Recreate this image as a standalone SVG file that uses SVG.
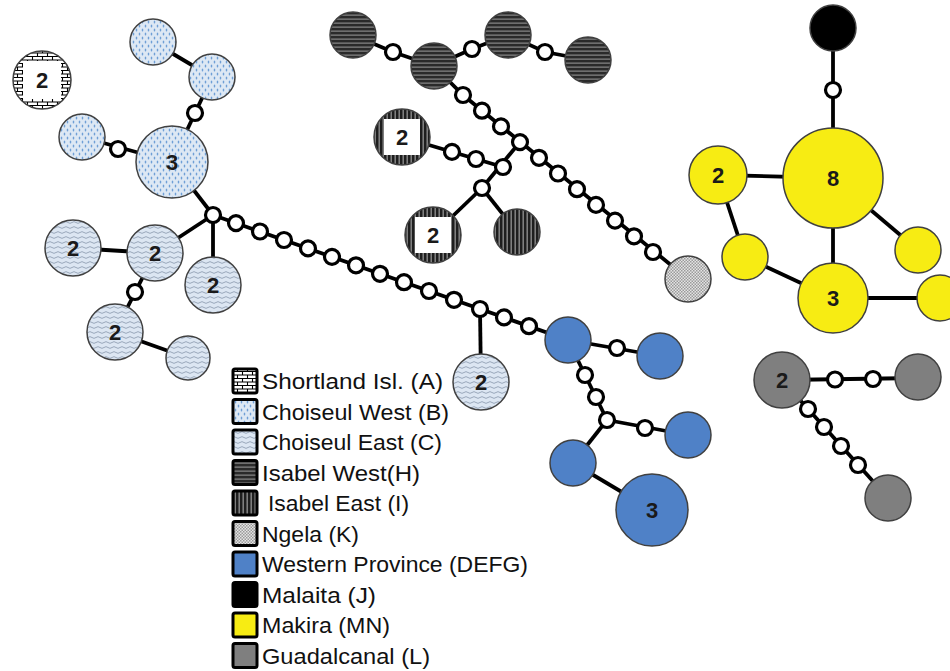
<svg xmlns="http://www.w3.org/2000/svg" width="950" height="671" viewBox="0 0 950 671">
<style>
.ln{stroke:#000;stroke-width:3.8;fill:none}
.mv{fill:#fff;stroke:#000;stroke-width:3.2}
.nd{stroke:#404040;stroke-width:1.5}
.num{font-family:"Liberation Sans",Arial,sans-serif;font-weight:bold;font-size:22px;fill:#1a1a1a;text-anchor:middle}
.lg{font-family:"Liberation Sans",Arial,sans-serif;font-size:22px;fill:#111}
.sw{stroke:#000;stroke-width:3}
</style>
<defs>
<pattern id="pA" width="10" height="7" patternUnits="userSpaceOnUse">
<rect width="10" height="7" fill="#fff"/>
<path d="M0 0.5H10M0 4H10M2.5 0.5V4M7.5 4V7.5" stroke="#000" stroke-width="1.1"/>
</pattern>
<pattern id="pB" width="6" height="8" patternUnits="userSpaceOnUse">
<rect width="6" height="8" fill="#dde8f4"/>
<ellipse cx="1.5" cy="2" rx="0.8" ry="1.5" fill="#6f9fd6"/>
<ellipse cx="4.5" cy="6" rx="0.8" ry="1.5" fill="#6f9fd6"/>
</pattern>
<pattern id="pC" width="8" height="5" patternUnits="userSpaceOnUse">
<rect width="8" height="5" fill="#dce6f2"/>
<path d="M0 2.5Q2 0.8 4 2.5T8 2.5" stroke="#8796ab" stroke-width="0.8" fill="none"/>
</pattern>
<pattern id="pH" width="4" height="4" patternUnits="userSpaceOnUse">
<rect width="4" height="4" fill="#2a2a2a"/>
<rect y="2.6" width="4" height="1" fill="#9a9a9a"/>
</pattern>
<pattern id="pI" width="4" height="4" patternUnits="userSpaceOnUse">
<rect width="4" height="4" fill="#1e1e1e"/>
<rect x="2.6" width="1.1" height="4" fill="#a8a8a8"/>
</pattern>
<pattern id="pK" width="3" height="3" patternUnits="userSpaceOnUse">
<rect width="3" height="3" fill="#e4e4e4"/>
<rect width="1.5" height="1.5" fill="#9a9a9a"/>
<rect x="1.5" y="1.5" width="1.5" height="1.5" fill="#9a9a9a"/>
</pattern>
</defs>
<rect width="950" height="671" fill="#fff"/>

<g id="connectors">
<line class="ln" x1="153" y1="42" x2="212" y2="77"/>
<line class="ln" x1="212" y1="77" x2="172" y2="162"/>
<line class="ln" x1="82" y1="137" x2="172" y2="162"/>
<line class="ln" x1="172" y1="162" x2="213" y2="215"/>
<line class="ln" x1="73" y1="248" x2="155" y2="253"/>
<line class="ln" x1="155" y1="253" x2="213" y2="215"/>
<line class="ln" x1="213" y1="215" x2="213" y2="285"/>
<line class="ln" x1="155" y1="253" x2="115" y2="332"/>
<line class="ln" x1="115" y1="332" x2="188" y2="358"/>
<line class="ln" x1="213" y1="215" x2="568" y2="340"/>
<line class="ln" x1="480" y1="309" x2="481" y2="382"/>
<line class="ln" x1="568" y1="340" x2="660" y2="356"/>
<line class="ln" x1="568" y1="340" x2="607" y2="420"/>
<line class="ln" x1="607" y1="420" x2="688" y2="435"/>
<line class="ln" x1="607" y1="420" x2="573" y2="463"/>
<line class="ln" x1="573" y1="463" x2="652" y2="510"/>
<polyline class="ln" points="353,35 393,52 434,66 472,49 508,35 545,52 588,60"/>
<polyline class="ln" points="434,66 463,95 688,279"/>
<line class="ln" x1="520" y1="142" x2="482" y2="188"/>
<line class="ln" x1="402" y1="137" x2="503" y2="167"/>
<line class="ln" x1="482" y1="188" x2="433" y2="235"/>
<line class="ln" x1="482" y1="188" x2="517" y2="232"/>
<line class="ln" x1="833" y1="28" x2="833" y2="178"/>
<line class="ln" x1="718" y1="175" x2="833" y2="178"/>
<line class="ln" x1="833" y1="178" x2="833" y2="298"/>
<line class="ln" x1="833" y1="178" x2="918" y2="250"/>
<line class="ln" x1="718" y1="175" x2="745" y2="257"/>
<line class="ln" x1="745" y1="257" x2="833" y2="298"/>
<line class="ln" x1="833" y1="298" x2="940" y2="298"/>
<line class="ln" x1="782" y1="380" x2="918" y2="378"/>
<line class="ln" x1="782" y1="380" x2="888" y2="498"/>

<circle class="mv" cx="195" cy="113" r="7.5"/>
<circle class="mv" cx="118" cy="149" r="7.5"/>
<circle class="mv" cx="135" cy="292" r="7.5"/>
<circle class="mv" cx="213" cy="215" r="7.5"/>
<circle class="mv" cx="236" cy="223.1" r="7.5"/>
<circle class="mv" cx="260" cy="231.5" r="7.5"/>
<circle class="mv" cx="284" cy="240" r="7.5"/>
<circle class="mv" cx="308" cy="248.4" r="7.5"/>
<circle class="mv" cx="332" cy="256.9" r="7.5"/>
<circle class="mv" cx="356" cy="265.3" r="7.5"/>
<circle class="mv" cx="380" cy="273.8" r="7.5"/>
<circle class="mv" cx="404" cy="282.2" r="7.5"/>
<circle class="mv" cx="429" cy="291" r="7.5"/>
<circle class="mv" cx="454" cy="299.8" r="7.5"/>
<circle class="mv" cx="480" cy="309" r="7.5"/>
<circle class="mv" cx="504" cy="317.4" r="7.5"/>
<circle class="mv" cx="529" cy="326.2" r="7.5"/>
<circle class="mv" cx="617" cy="348" r="7.5"/>
<circle class="mv" cx="585" cy="375" r="7.5"/>
<circle class="mv" cx="596" cy="397" r="7.5"/>
<circle class="mv" cx="607" cy="420" r="7.5"/>
<circle class="mv" cx="645" cy="428" r="7.5"/>
<circle class="mv" cx="393" cy="52" r="7.5"/>
<circle class="mv" cx="472" cy="49" r="7.5"/>
<circle class="mv" cx="545" cy="52" r="7.5"/>
<circle class="mv" cx="463" cy="95" r="7.5"/>
<circle class="mv" cx="482" cy="110.7" r="7.5"/>
<circle class="mv" cx="501" cy="126.4" r="7.5"/>
<circle class="mv" cx="520" cy="142.1" r="7.5"/>
<circle class="mv" cx="539" cy="157.8" r="7.5"/>
<circle class="mv" cx="558" cy="173.5" r="7.5"/>
<circle class="mv" cx="577" cy="189.2" r="7.5"/>
<circle class="mv" cx="596" cy="204.9" r="7.5"/>
<circle class="mv" cx="615" cy="220.6" r="7.5"/>
<circle class="mv" cx="634" cy="236.3" r="7.5"/>
<circle class="mv" cx="653" cy="252" r="7.5"/>
<circle class="mv" cx="452" cy="151.9" r="7.5"/>
<circle class="mv" cx="476" cy="159" r="7.5"/>
<circle class="mv" cx="503" cy="167" r="7.5"/>
<circle class="mv" cx="482" cy="188" r="7.5"/>
<circle class="mv" cx="833" cy="90" r="7.5"/>
<circle class="mv" cx="835" cy="379.5" r="7.5"/>
<circle class="mv" cx="873" cy="379" r="7.5"/>
<circle class="mv" cx="808" cy="409" r="7.5"/>
<circle class="mv" cx="824" cy="427" r="7.5"/>
<circle class="mv" cx="841" cy="446" r="7.5"/>
<circle class="mv" cx="858" cy="465" r="7.5"/>
</g>

<g id="nA1"><circle class="nd" cx="42" cy="80" r="29" fill="url(#pA)"/><rect x="23" y="61" width="38" height="38" fill="#fff"/><text class="num" x="42" y="88">2</text></g>
<g id="nB1"><circle class="nd" cx="153" cy="42" r="23" fill="url(#pB)"/></g>
<g id="nB2"><circle class="nd" cx="212" cy="77" r="23" fill="url(#pB)"/></g>
<g id="nB3"><circle class="nd" cx="82" cy="137" r="23" fill="url(#pB)"/></g>
<g id="nB4"><circle class="nd" cx="172" cy="162" r="36" fill="url(#pB)"/><text class="num" x="172" y="170">3</text></g>
<g id="nC1"><circle class="nd" cx="73" cy="248" r="28" fill="url(#pC)"/><text class="num" x="73" y="256">2</text></g>
<g id="nC2"><circle class="nd" cx="155" cy="253" r="28" fill="url(#pC)"/><text class="num" x="155" y="261">2</text></g>
<g id="nC3"><circle class="nd" cx="213" cy="285" r="28" fill="url(#pC)"/><text class="num" x="213" y="293">2</text></g>
<g id="nC4"><circle class="nd" cx="115" cy="332" r="28" fill="url(#pC)"/><text class="num" x="115" y="340">2</text></g>
<g id="nC5"><circle class="nd" cx="188" cy="358" r="22" fill="url(#pC)"/></g>
<g id="nC6"><circle class="nd" cx="481" cy="382" r="28" fill="url(#pC)"/><text class="num" x="481" y="390">2</text></g>
<g id="nH1"><circle class="nd" cx="353" cy="35" r="23" fill="url(#pH)"/></g>
<g id="nH2"><circle class="nd" cx="434" cy="66" r="23" fill="url(#pH)"/></g>
<g id="nH3"><circle class="nd" cx="508" cy="35" r="23" fill="url(#pH)"/></g>
<g id="nH4"><circle class="nd" cx="588" cy="60" r="23" fill="url(#pH)"/></g>
<g id="nI1"><circle class="nd" cx="402" cy="137" r="28" fill="url(#pI)"/><rect x="384" y="119" width="36" height="36" fill="#fff"/><text class="num" x="402" y="145">2</text></g>
<g id="nI2"><circle class="nd" cx="433" cy="235" r="28" fill="url(#pI)"/><rect x="415" y="217" width="36" height="36" fill="#fff"/><text class="num" x="433" y="243">2</text></g>
<g id="nI3"><circle class="nd" cx="517" cy="232" r="23" fill="url(#pI)"/></g>
<g id="nK1"><circle class="nd" cx="688" cy="279" r="23" fill="url(#pK)"/></g>
<g id="nW1"><circle class="nd" cx="568" cy="340" r="23" fill="#4f81c7"/></g>
<g id="nW2"><circle class="nd" cx="660" cy="356" r="23" fill="#4f81c7"/></g>
<g id="nW3"><circle class="nd" cx="688" cy="435" r="23" fill="#4f81c7"/></g>
<g id="nW4"><circle class="nd" cx="573" cy="463" r="23" fill="#4f81c7"/></g>
<g id="nW5"><circle class="nd" cx="652" cy="510" r="36" fill="#4f81c7"/><text class="num" x="652" y="518">3</text></g>
<g id="nJ1"><circle class="nd" cx="833" cy="28" r="23" fill="#000"/></g>
<g id="nM8"><circle class="nd" cx="833" cy="178" r="50" fill="#f7ec13"/><text class="num" x="833" y="186">8</text></g>
<g id="nM2"><circle class="nd" cx="718" cy="175" r="29" fill="#f7ec13"/><text class="num" x="718" y="183">2</text></g>
<g id="nMa"><circle class="nd" cx="745" cy="257" r="23" fill="#f7ec13"/></g>
<g id="nM3"><circle class="nd" cx="833" cy="298" r="35" fill="#f7ec13"/><text class="num" x="833" y="306">3</text></g>
<g id="nMb"><circle class="nd" cx="918" cy="250" r="23" fill="#f7ec13"/></g>
<g id="nMc"><circle class="nd" cx="940" cy="298" r="23" fill="#f7ec13"/></g>
<g id="nL1"><circle class="nd" cx="782" cy="380" r="28" fill="#7f7f7f"/><text class="num" x="782" y="388">2</text></g>
<g id="nL2"><circle class="nd" cx="918" cy="377" r="23" fill="#7f7f7f"/></g>
<g id="nL3"><circle class="nd" cx="888" cy="498" r="23" fill="#7f7f7f"/></g>

<g id="legend">
<rect class="sw" x="233" y="369" width="24" height="24" rx="2" fill="url(#pA)"/>
<text class="lg" x="262" y="389" textLength="181" lengthAdjust="spacingAndGlyphs">Shortland Isl. (A)</text>
<rect class="sw" x="233" y="399.5" width="24" height="24" rx="2" fill="url(#pB)"/>
<text class="lg" x="262" y="419.5" textLength="187" lengthAdjust="spacingAndGlyphs">Choiseul West (B)</text>
<rect class="sw" x="233" y="430" width="24" height="24" rx="2" fill="url(#pC)"/>
<text class="lg" x="262" y="450" textLength="180" lengthAdjust="spacingAndGlyphs">Choiseul East (C)</text>
<rect class="sw" x="233" y="460.5" width="24" height="24" rx="2" fill="url(#pH)"/>
<text class="lg" x="262" y="480.5" textLength="158" lengthAdjust="spacingAndGlyphs">Isabel West(H)</text>
<rect class="sw" x="233" y="491" width="24" height="24" rx="2" fill="url(#pI)"/>
<text class="lg" x="268" y="511" textLength="141" lengthAdjust="spacingAndGlyphs">Isabel East (I)</text>
<rect class="sw" x="233" y="521.5" width="24" height="24" rx="2" fill="url(#pK)"/>
<text class="lg" x="262" y="541.5" textLength="97" lengthAdjust="spacingAndGlyphs">Ngela (K)</text>
<rect class="sw" x="233" y="552" width="24" height="24" rx="2" fill="#4f81c7"/>
<text class="lg" x="262" y="572" textLength="266" lengthAdjust="spacingAndGlyphs">Western Province (DEFG)</text>
<rect class="sw" x="233" y="582.5" width="24" height="24" rx="2" fill="#000"/>
<text class="lg" x="262" y="602.5" textLength="114" lengthAdjust="spacingAndGlyphs">Malaita (J)</text>
<rect class="sw" x="233" y="613" width="24" height="24" rx="2" fill="#f7ec13"/>
<text class="lg" x="262" y="633" textLength="128" lengthAdjust="spacingAndGlyphs">Makira (MN)</text>
<rect class="sw" x="233" y="643.5" width="24" height="24" rx="2" fill="#7f7f7f"/>
<text class="lg" x="262" y="663.5" textLength="168" lengthAdjust="spacingAndGlyphs">Guadalcanal (L)</text>
</g>
</svg>
